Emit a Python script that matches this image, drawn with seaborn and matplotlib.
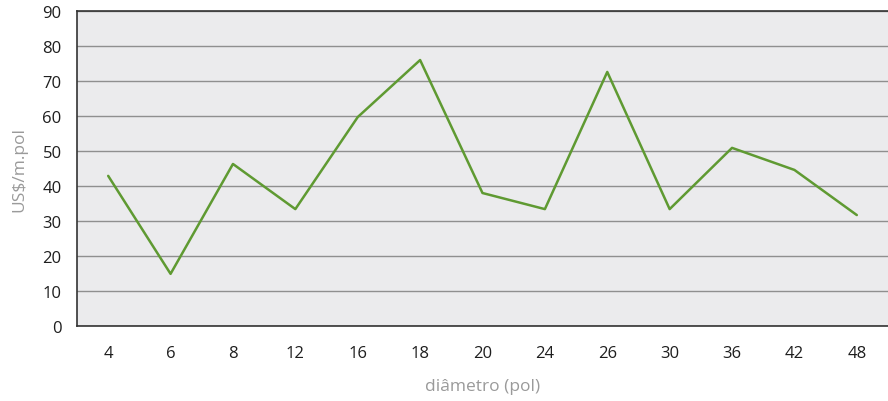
import seaborn as sns
import matplotlib.pyplot as plt
import pandas as pd

# diameter categories (pol) and cost per m.pol
diametro = ["4", "6", "8", "12", "16", "18", "20", "24", "26", "30", "36", "42", "48"]
custo = [42.9, 14.9, 46.3, 33.4, 59.7, 76.0, 38.0, 33.4, 72.6, 33.4, 50.9, 44.6, 31.7]

df = pd.DataFrame({"diametro": diametro, "custo": custo})

sns.set_style("whitegrid")
plt.rcParams["font.family"] = ["Open Sans", "DejaVu Sans"]

fig = plt.figure(figsize=(8.88, 4.02), dpi=100)
ax = fig.add_axes([0.0867, 0.1866, 0.9133, 0.7834])
ax.set_facecolor("#ebebed")

sns.lineplot(data=df, x="diametro", y="custo", sort=False, color="#5f9a32", linewidth=1.8, ax=ax)

ax.set_xlim(-0.5, len(diametro) - 0.5)
ax.set_ylim(0, 90)
ax.set_yticks(range(0, 91, 10))
ax.set_xticks(range(len(diametro)))
ax.set_xticklabels(diametro)
ax.set_xticks([i - 0.5 for i in range(len(diametro) + 1)], minor=True)

ax.grid(axis="y", color="#8f8f8f", linewidth=1.0)
ax.grid(axis="x", visible=False)

ax.tick_params(axis="x", which="major", length=0, pad=14, labelsize=12, labelcolor="#1e1e1e")
ax.tick_params(axis="x", which="minor", length=6, width=1, color="#444444", direction="out")
ax.tick_params(axis="y", length=6, width=1, color="#444444", direction="out", pad=5,
               labelsize=12, labelcolor="#1e1e1e")

for side in ["left", "bottom", "top"]:
    ax.spines[side].set_visible(True)
    ax.spines[side].set_color("#333333")
    ax.spines[side].set_linewidth(1.2)
ax.spines["right"].set_visible(False)

ax.set_xlabel("diâmetro (pol)", color="#9a9a9a", fontsize=12.5, labelpad=12)
ax.set_ylabel("US$/m.pol", color="#9a9a9a", fontsize=12.5, labelpad=11)

fig.savefig("out.png", dpi=100)
